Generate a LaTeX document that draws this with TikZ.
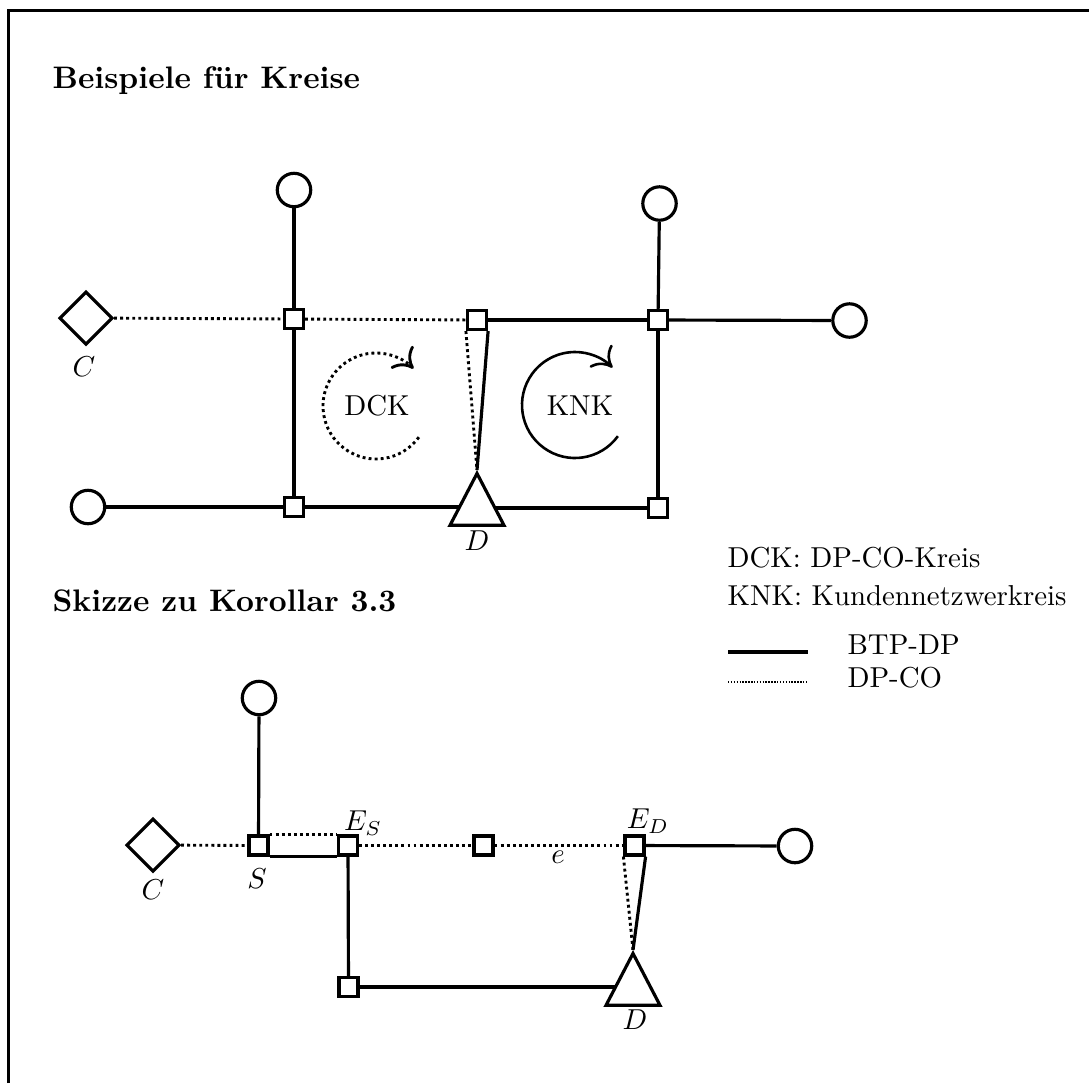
\documentclass[tikz,border=0pt]{standalone}
\usetikzlibrary{shapes.geometric,arrows.meta,backgrounds}
\begin{document}
\begin{tikzpicture}[x = 0.347pt, y = 0.347pt,
  dp/.style = {draw, line width = 1.1pt, fill = white, rectangle, minimum size = 6.6pt, inner sep = 0pt},
  kunde/.style = {draw, line width = 1.1pt, fill = white, circle, minimum size = 11.6pt, inner sep = 0pt},
  co/.style = {draw, line width = 1.1pt, fill = white, diamond, minimum size = 18.5pt, inner sep = 0pt},
  btp/.style = {draw, line width = 1.1pt, fill = white, isosceles triangle, isosceles triangle apex angle = 55, shape border rotate = 90, minimum size = 18pt, inner sep = 0pt},
  btpdp/.style = {line width = 1.1pt},
  dpco/.style = {line width = 1pt, dash pattern = on 1pt off 1.1pt},
  kreis/.style = {line width = 0.9pt, -{To[length = 6pt, width = 11pt]}},
  titel/.style = {anchor = base west, inner sep = 0pt, font = \fontsize{10.8}{13}\selectfont\bfseries},
  txt/.style = {anchor = base west, inner sep = 0pt}]
\useasboundingbox (0, 0) rectangle (1089, -1083);
\draw[line width = 1.2pt] (8.5, -1083) -- (8.5, -10.5) -- (1089, -10.5);
\node[titel] (titel1) at (52, -88) {Beispiele für Kreise};
\node[co] (C) at (86, -318) {};
\node (Clab) at (84, -367) {$C$};
\node[kunde] (K1) at (294, -190) {};
\node[dp] (S1) at (294, -319) {};
\node[dp] (S2) at (477, -320) {};
\node[dp] (S3) at (658, -320) {};
\node[kunde] (K2) at (659.5, -203.5) {};
\node[kunde] (K3) at (849.5, -320.5) {};
\node[kunde] (K4) at (88, -507) {};
\node[dp] (S4) at (294, -507) {};
\node[btp, anchor = apex] (D) at (477, -470) {};
\node (Dlab) at (477, -541) {$D$};
\node[dp] (S5) at (658, -508) {};
\node (DCK) at (377, -406) {DCK};
\node (KNK) at (580, -406) {KNK};
\draw[kreis, dpco] (376, -406) ++(-36:53) arc[start angle = -36, end angle = -315, radius = 53];
\draw[kreis] (575, -405) ++(-36:53) arc[start angle = -36, end angle = -315, radius = 53];
\begin{scope}[on background layer]
\draw[dpco] (C) -- (S1);
\draw[dpco] (S1) -- (S2);
\draw[btpdp] (S2) -- (S3);
\draw[btpdp] (S3) -- (K3);
\draw[btpdp] (K1) -- (S1);
\draw[btpdp] (K2) -- (S3);
\draw[btpdp] (S1) -- (S4);
\draw[btpdp] (S3) -- (S5);
\draw[btpdp] (K4) -- (S4);
\draw[btpdp] (S4) -- (S4 -| D.center);
\draw[btpdp] (S5 -| D.center) -- (S5);
\draw[btpdp] (S2.south east) -- (D.apex);
\draw[dpco] (S2.south west) -- (D.apex);
\end{scope}
\node[txt] (leg1) at (727, -567) {DCK: DP-CO-Kreis};
\node[txt] (leg2) at (727, -605) {KNK: Kundennetzwerkreis};
\coordinate (l1a) at (728, -652);
\coordinate (l1b) at (808, -652);
\draw[btpdp] (l1a) -- (l1b);
\node[txt] (leg3) at (847, -654) {BTP-DP};
\coordinate (l2a) at (728, -682);
\coordinate (l2b) at (808, -682);
\draw[line width = 0.7pt, dash pattern = on 0.5pt off 0.5pt] (l2a) -- (l2b);
\node[txt] (leg4) at (847, -687) {DP-CO};
\node[titel] (titel2) at (52, -611) {Skizze zu Korollar 3.3};
\node[co] (C2) at (153, -845) {};
\node (C2lab) at (153, -890) {$C$};
\node[kunde] (K5) at (259, -698) {};
\node[dp] (S) at (258.5, -845.5) {};
\node (Slab) at (257, -879) {$S$};
\node[dp] (ES) at (348, -845.5) {};
\node (ESlab) at (363, -823) {$E_S$};
\node[dp] (M) at (483.5, -845.5) {};
\node (elab) at (558, -857) {$e$};
\node[dp] (ED) at (634.5, -845.5) {};
\node (EDlab) at (648, -821) {$E_D$};
\node[kunde] (K6) at (795, -846) {};
\node[dp] (B) at (348.5, -987) {};
\node[btp, anchor = apex] (D2) at (633, -950) {};
\node (D2lab) at (635, -1020) {$D$};
\begin{scope}[on background layer]
\draw[dpco] (C2) -- (S);
\draw[btpdp] (K5) -- (S);
\draw[dpco] (S.north east) -- (ES.north west);
\draw[btpdp] (S.south east) -- (ES.south west);
\draw[dpco] (ES) -- (M);
\draw[dpco] (M) -- (ED);
\draw[btpdp] (ED) -- (K6);
\draw[btpdp] (ES) -- (B);
\draw[btpdp] (B) -- (B -| D2.center);
\draw[btpdp] (ED.south east) -- (D2.apex);
\draw[dpco] (ED.south west) -- (D2.apex);
\end{scope}
\end{tikzpicture}
\end{document}
